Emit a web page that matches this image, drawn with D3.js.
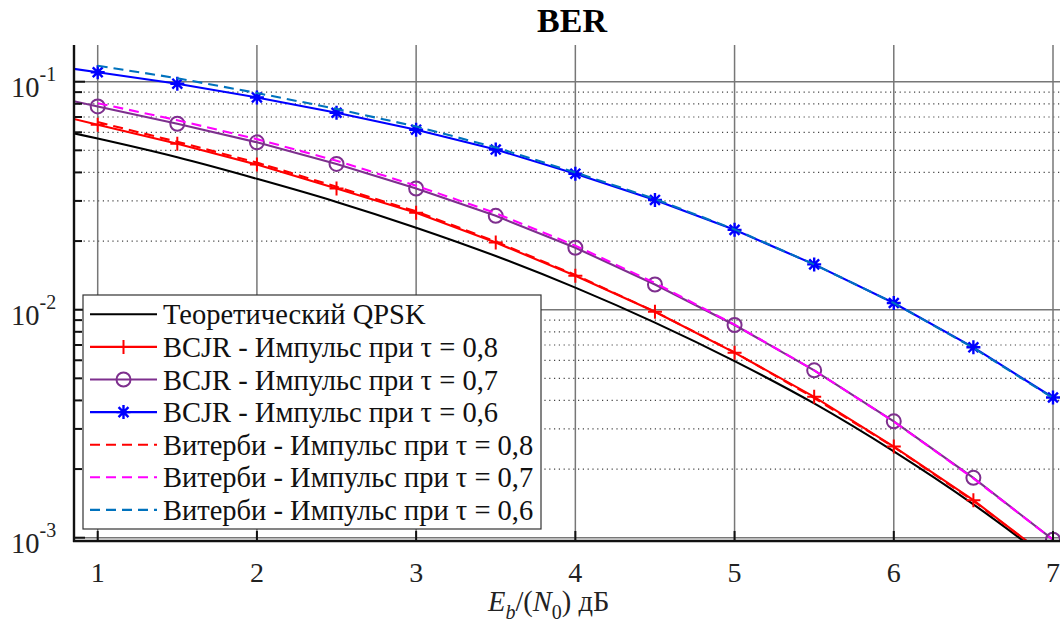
<!DOCTYPE html>
<html>
<head>
<meta charset="utf-8">
<script src="https://cdn.jsdelivr.net/npm/d3@7"></script>
<style>
  body { margin: 0; background: #fff; }
</style>
</head>
<body>
<div id="chart"></div>
<script>
// ---- data ----
var ebn0Theory = [0, 0.5, 1, 1.5, 2, 2.5, 3, 3.5, 4, 4.5, 5, 5.5, 6, 6.5, 7];
var berTheory  = [0.0786, 0.0669, 0.0563, 0.0466, 0.0375, 0.0297, 0.0229, 0.0172, 0.0125, 0.00878, 0.00595, 0.00388, 0.00239, 0.0014, 0.000773];

var ebn0Bcjr = [0.5, 1, 1.5, 2, 2.5, 3, 3.5, 4, 4.5, 5, 5.5, 6, 6.5, 7];
var bcjr08 = [0.0786, 0.0648, 0.0534, 0.0433, 0.0340, 0.0266, 0.0197, 0.0141, 0.0098, 0.00648, 0.00415, 0.00251, 0.00146, 0.00079];
var bcjr07 = [0.0928, 0.0779, 0.0654, 0.0542, 0.0436, 0.0340, 0.0258, 0.0187, 0.0129, 0.00857, 0.00542, 0.00324, 0.00183, 0.00098];
var bcjr06 = [0.1235, 0.110, 0.098, 0.0853, 0.0731, 0.0616, 0.0504, 0.0395, 0.0303, 0.0224, 0.0158, 0.0107, 0.00684, 0.00412];

var ebn0Vit = [1, 1.5, 2, 2.5, 3, 3.5, 4, 4.5, 5, 5.5, 6, 6.5, 7];
var vit08 = [0.0665, 0.0545, 0.0442, 0.0346, 0.0270, 0.0199, 0.0142, 0.0098, 0.0065, 0.0041, 0.0025, 0.00145, 0.00079];
var vit07 = [0.0805, 0.0678, 0.0560, 0.0450, 0.0350, 0.0265, 0.0191, 0.0131, 0.0086, 0.00542, 0.00323, 0.00182, 0.00098];
var vit06 = [0.1175, 0.1036, 0.0892, 0.0760, 0.0636, 0.0515, 0.0400, 0.0306, 0.0225, 0.0158, 0.0107, 0.0068, 0.0041];

var xTicks = [1, 2, 3, 4, 5, 6, 7];
var yTicks = [1e-3, 1e-2, 1e-1];
var yExps  = ["-3", "-2", "-1"];

var labels = [
  "Теоретический QPSK",
  "BCJR - Импульс при τ = 0,8",
  "BCJR - Импульс при τ = 0,7",
  "BCJR - Импульс при τ = 0,6",
  "Витерби - Импульс при τ = 0,8",
  "Витерби - Импульс при τ = 0,7",
  "Витерби - Импульс при τ = 0,6"
];

// ---- layout ----
var W = 1060, H = 630;
var pL = 74, pT = 45, pB = 541, pR = 1072;
var FONT = "'Liberation Serif', 'Times New Roman', serif";

var x = d3.scaleLinear().domain([1, 7]).range([97.7, 1053]);
var y = d3.scaleLog().domain([1e-3, 1e-1]).range([537.7, 81.7]);

var svg = d3.select("#chart").append("svg")
  .attr("width", W).attr("height", H)
  .attr("font-family", FONT)
  .style("display", "block")
  .style("background", "#fff");

svg.append("defs").append("clipPath").attr("id", "plotclip")
  .append("rect")
  .attr("x", pL).attr("y", pT)
  .attr("width", pR - pL).attr("height", pB - pT);

var grid = svg.append("g");

/* minor y grid (dotted) */
var minor = [];
[1e-3, 1e-2, 1e-1].forEach(function (dec) {
  for (var k = 2; k <= 9; k++) minor.push(dec * k);
});
minor = minor.filter(function (v) { return y(v) > pT && y(v) < pB; });

grid.selectAll(".ymin").data(minor).enter().append("line")
  .attr("x1", pL).attr("x2", pR)
  .attr("y1", function (d) { return y(d); }).attr("y2", function (d) { return y(d); })
  .attr("stroke", "#444").attr("stroke-width", 1.2)
  .attr("stroke-dasharray", "1.2,3.6");

/* major grids */
grid.selectAll(".ymaj").data(yTicks).enter().append("line")
  .attr("x1", pL).attr("x2", pR)
  .attr("y1", function (d) { return y(d); }).attr("y2", function (d) { return y(d); })
  .attr("stroke", "#777").attr("stroke-width", 1.5);

grid.selectAll(".xmaj").data(xTicks).enter().append("line")
  .attr("x1", function (d) { return x(d); }).attr("x2", function (d) { return x(d); })
  .attr("y1", pT).attr("y2", pB)
  .attr("stroke", "#777").attr("stroke-width", 1.5);

/* ---- series ---- */
var series = [
  { xs: ebn0Theory, ys: berTheory, color: "#000000", dash: null, marker: null, curve: d3.curveMonotoneX },
  { xs: ebn0Bcjr, ys: bcjr08, color: "#ff0000", dash: null, marker: "plus" },
  { xs: ebn0Bcjr, ys: bcjr07, color: "#7e2f8e", dash: null, marker: "circle" },
  { xs: ebn0Bcjr, ys: bcjr06, color: "#0000ff", dash: null, marker: "star" },
  { xs: ebn0Vit, ys: vit08, color: "#ff0000", dash: "10,6", marker: null },
  { xs: ebn0Vit, ys: vit07, color: "#ff00ff", dash: "10,6", marker: null },
  { xs: ebn0Vit, ys: vit06, color: "#0072bd", dash: "10,6", marker: null }
];

function drawMarker(g, type, cx, cy, col) {
  if (type === "plus") {
    g.append("path")
      .attr("d", "M" + (cx - 7) + "," + cy + "H" + (cx + 7) + "M" + cx + "," + (cy - 7) + "V" + (cy + 7))
      .attr("stroke", col).attr("stroke-width", 2).attr("fill", "none");
  } else if (type === "circle") {
    g.append("circle").attr("cx", cx).attr("cy", cy).attr("r", 7)
      .attr("stroke", col).attr("stroke-width", 2).attr("fill", "none");
  } else if (type === "star") {
    var r = 7, d = "";
    [0, 45, 90, 135].forEach(function (a) {
      var rad = a * Math.PI / 180;
      d += "M" + (cx - r * Math.cos(rad)) + "," + (cy - r * Math.sin(rad)) +
           "L" + (cx + r * Math.cos(rad)) + "," + (cy + r * Math.sin(rad));
    });
    g.append("path").attr("d", d)
      .attr("stroke", col).attr("stroke-width", 2.4).attr("fill", "none");
  }
}

var plot = svg.append("g").attr("clip-path", "url(#plotclip)");

series.forEach(function (s) {
  var pts = s.xs.map(function (v, i) { return [v, s.ys[i]]; });
  var line = d3.line()
    .x(function (p) { return x(p[0]); })
    .y(function (p) { return y(p[1]); })
    .curve(s.curve || d3.curveLinear);
  plot.append("path")
    .attr("d", line(pts))
    .attr("fill", "none")
    .attr("stroke", s.color)
    .attr("stroke-width", 2.1)
    .attr("stroke-dasharray", s.dash);
  if (s.marker) {
    pts.forEach(function (p) {
      drawMarker(plot, s.marker, x(p[0]), y(p[1]), s.color);
    });
  }
});

/* ---- axes ---- */
var ax = svg.append("g");
ax.append("line").attr("x1", pL).attr("x2", pL).attr("y1", pT).attr("y2", pB + 1)
  .attr("stroke", "#111").attr("stroke-width", 2.4);
ax.append("line").attr("x1", pL - 1).attr("x2", W).attr("y1", pB).attr("y2", pB)
  .attr("stroke", "#111").attr("stroke-width", 2.4);

/* y ticks (inward) */
ax.selectAll(".yt").data(yTicks).enter().append("line")
  .attr("x1", pL).attr("x2", pL + 11)
  .attr("y1", function (d) { return y(d); }).attr("y2", function (d) { return y(d); })
  .attr("stroke", "#111").attr("stroke-width", 2);
ax.selectAll(".ymt").data(minor).enter().append("line")
  .attr("x1", pL).attr("x2", pL + 8)
  .attr("y1", function (d) { return y(d); }).attr("y2", function (d) { return y(d); })
  .attr("stroke", "#111").attr("stroke-width", 2);

/* x ticks (inward) */
ax.selectAll(".xt").data(xTicks).enter().append("line")
  .attr("x1", function (d) { return x(d); }).attr("x2", function (d) { return x(d); })
  .attr("y1", pB).attr("y2", pB - 10)
  .attr("stroke", "#111").attr("stroke-width", 2);

/* tick labels */
ax.selectAll(".xl").data(xTicks).enter().append("text")
  .attr("x", function (d) { return x(d); }).attr("y", pB + 41)
  .attr("text-anchor", "middle")
  .attr("font-size", 28).attr("fill", "#222")
  .text(function (d) { return d; });

var yl = ax.selectAll(".yl").data(yTicks).enter().append("text")
  .attr("x", 11).attr("y", function (d) { return y(d) + 15; })
  .attr("font-size", 28.5).attr("fill", "#222");
yl.append("tspan").text("10");
yl.append("tspan").attr("dy", -16).attr("font-size", 20)
  .text(function (d, i) { return yExps[i]; });

/* title */
svg.append("text")
  .attr("x", 572).attr("y", 32)
  .attr("text-anchor", "middle")
  .attr("font-size", 34).attr("font-weight", "bold").attr("fill", "#000")
  .text("BER");

/* x label: E_b/(N_0) дБ */
var xl = svg.append("text")
  .attr("x", 488).attr("y", 611)
  .attr("font-size", 28.5).attr("fill", "#222");
xl.append("tspan").attr("font-style", "italic").text("E");
xl.append("tspan").attr("font-style", "italic").attr("font-size", 20).attr("dy", 8).text("b");
xl.append("tspan").attr("dy", -8).text("/(");
xl.append("tspan").attr("font-style", "italic").text("N");
xl.append("tspan").attr("font-size", 20).attr("dy", 8).text("0");
xl.append("tspan").attr("dy", -8).text(") дБ");

/* ---- legend ---- */
var lg = svg.append("g");
var lgX = 83, lgY = 295, lgW = 458, lgH = 234, rowH = 32.6, row0 = 314.3;
lg.append("rect")
  .attr("x", lgX).attr("y", lgY).attr("width", lgW).attr("height", lgH)
  .attr("fill", "#fff").attr("stroke", "#333").attr("stroke-width", 1.2);

series.forEach(function (s, i) {
  var cy = row0 + i * rowH;
  lg.append("line")
    .attr("x1", 90).attr("x2", 157).attr("y1", cy).attr("y2", cy)
    .attr("stroke", s.color).attr("stroke-width", 2.1)
    .attr("stroke-dasharray", s.dash);
  if (s.marker) drawMarker(lg, s.marker, 123.5, cy, s.color);
  lg.append("text")
    .attr("x", 163).attr("y", cy + 10)
    .attr("font-size", 28.5).attr("fill", "#111")
    .text(labels[i]);
});
</script>
</body>
</html>
